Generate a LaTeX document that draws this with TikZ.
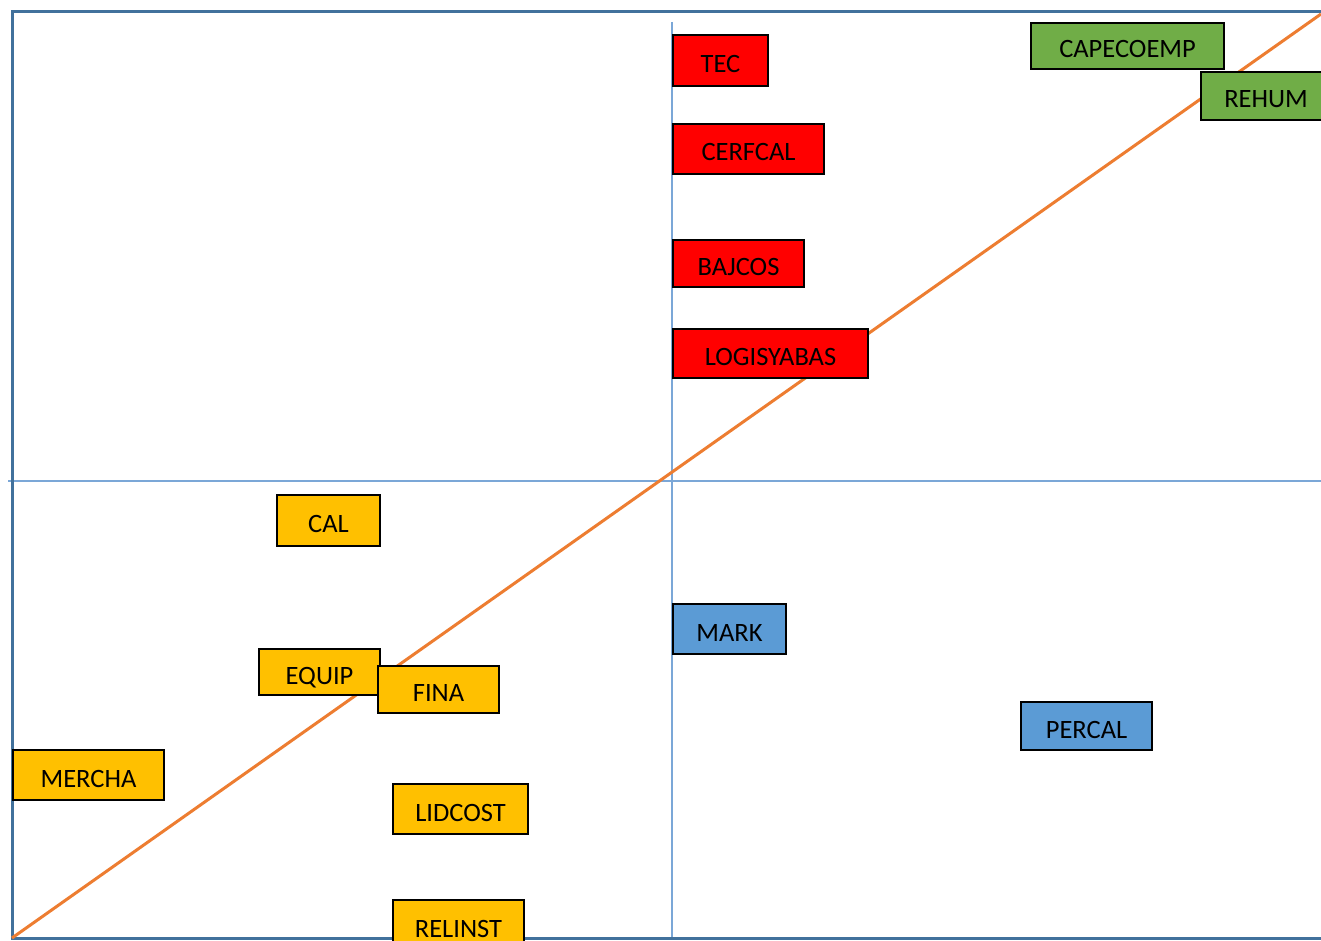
\documentclass[tikz,border=0pt]{standalone}
\usepackage{fontspec}
\setmainfont{Carlito}
\definecolor{axisblue}{HTML}{41719C}
\definecolor{gridblue}{HTML}{7BA7D7}
\definecolor{trendorange}{HTML}{ED7D31}
\definecolor{qred}{HTML}{FF0000}
\definecolor{qgreen}{HTML}{70AD47}
\definecolor{qyellow}{HTML}{FFC000}
\definecolor{qblue}{HTML}{5B9BD5}

\begin{document}
\begin{tikzpicture}[x=1pt,y=-1pt,
  box/.style={draw=black,line width=2pt,anchor=north west,inner sep=0pt,text height=24pt,text depth=0pt,font=\fontsize{26.5}{30}\selectfont}]
  \clip (0,0) rectangle (1321,941);
  % quadrant lines
  \draw[gridblue,line width=1.2pt] (672,22) -- (672,938);
  \draw[gridblue,line width=1.2pt] (8,481) -- (1321,481);
  % frame
  \draw[axisblue,line width=3pt] (1321,12) -- (12,12) -- (12,938) -- (1321,938);
  % trend line
  \coordinate (origin) at (12,938);
  \coordinate (corner) at (1321,14);
  \draw[trendorange,line width=3pt] (origin) -- (corner);
  % upper right
  \node[box,fill=qred,minimum width=95pt,minimum height=51pt] (tec) at (672,34) {TEC};
  \node[box,fill=qred,minimum width=151pt,minimum height=50pt] (cerfcal) at (672,123) {CERFCAL};
  \node[box,fill=qred,minimum width=131pt,minimum height=47pt] (bajcos) at (672,239) {BAJCOS};
  \node[box,fill=qred,minimum width=195pt,minimum height=49pt] (logisyabas) at (672,328) {LOGISYABAS};
  \node[box,fill=qgreen,minimum width=193pt,minimum height=46pt] (capecoemp) at (1030,22) {CAPECOEMP};
  \node[box,fill=qgreen,minimum width=130pt,minimum height=48pt] (rehum) at (1200,71) {REHUM};
  % lower left
  \node[box,fill=qyellow,minimum width=103pt,minimum height=51pt] (cal) at (276,494) {CAL};
  \node[box,fill=qyellow,minimum width=121pt,minimum height=46pt] (equip) at (258,648) {EQUIP};
  \node[box,fill=qyellow,minimum width=121pt,minimum height=47pt] (fina) at (377,665) {FINA};
  \node[box,fill=qyellow,minimum width=151pt,minimum height=50pt] (mercha) at (12,749) {MERCHA};
  \node[box,fill=qyellow,minimum width=135pt,minimum height=50pt] (lidcost) at (392,783) {LIDCOST};
  \node[box,fill=qyellow,minimum width=131pt,minimum height=50pt] (relinst) at (392,899) {RELINST};
  % lower right
  \node[box,fill=qblue,minimum width=113pt,minimum height=50pt] (mark) at (672,603) {MARK};
  \node[box,fill=qblue,minimum width=131pt,minimum height=48pt] (percal) at (1020,701) {PERCAL};
\end{tikzpicture}
\end{document}
